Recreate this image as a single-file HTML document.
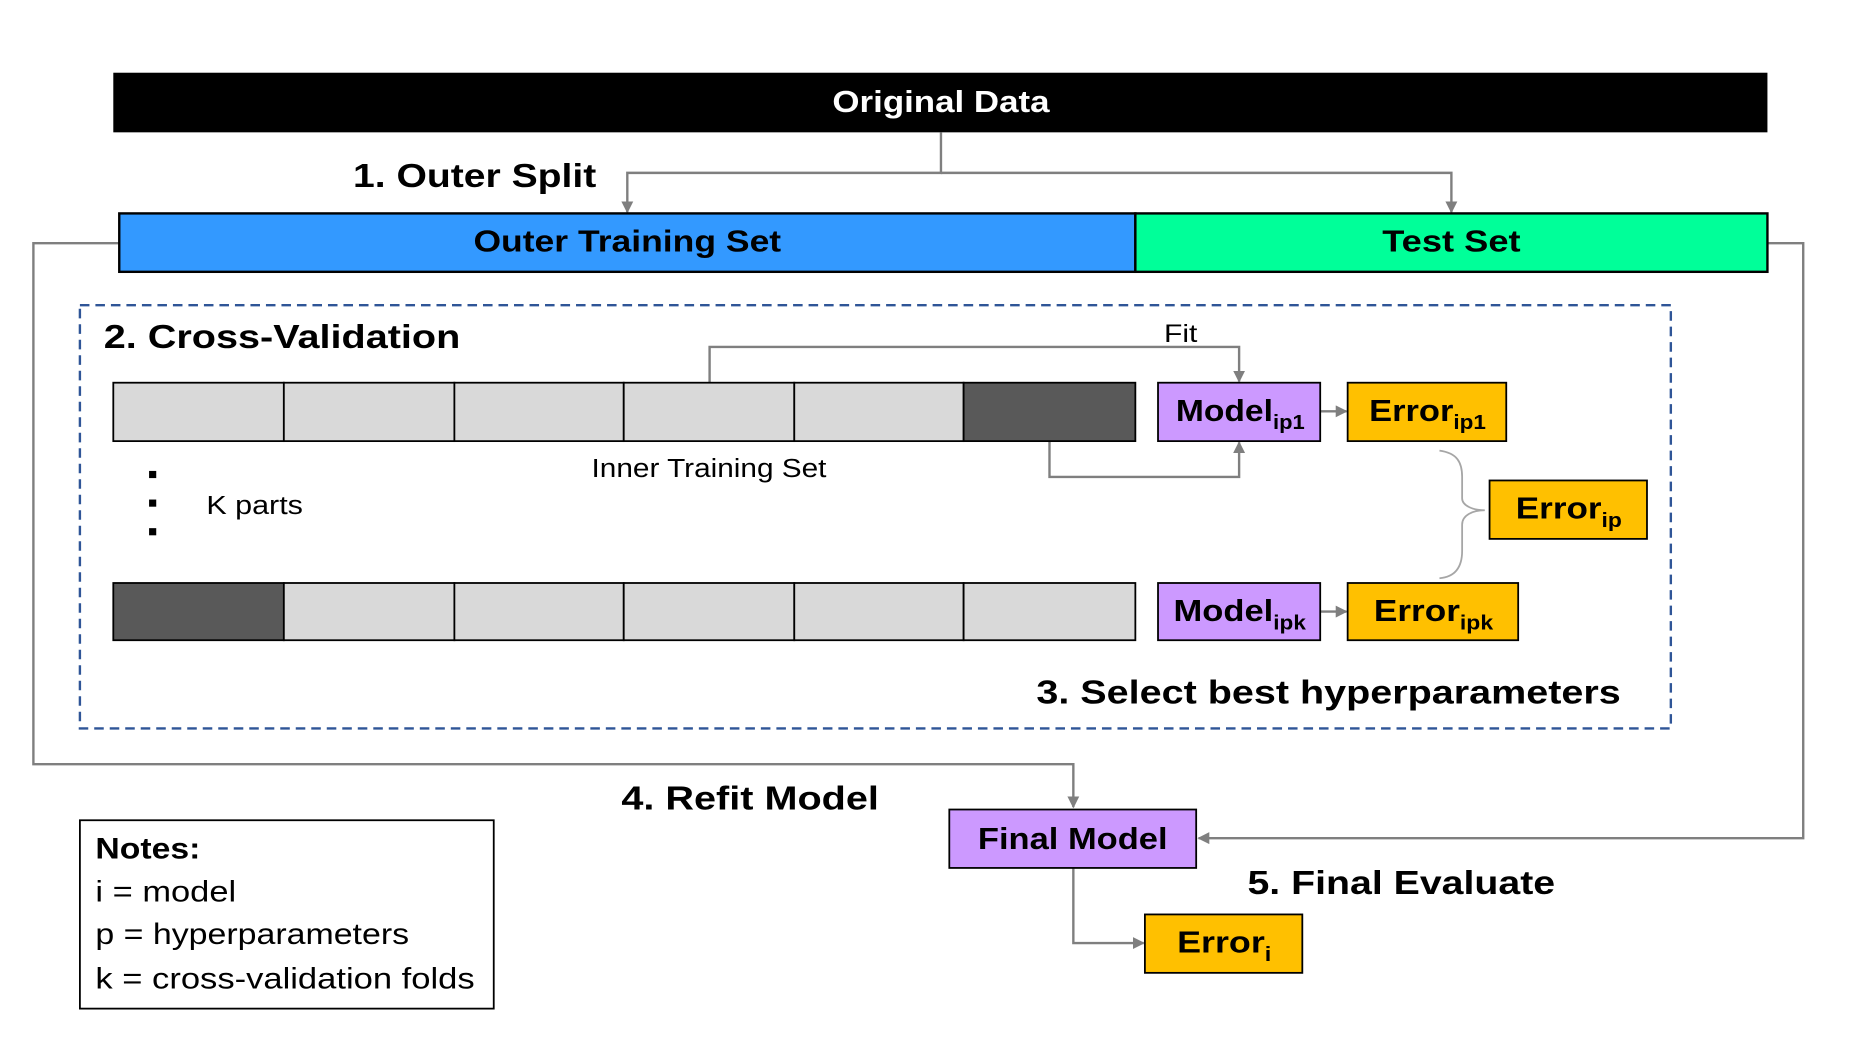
<!DOCTYPE html>
<html><head><meta charset="utf-8"><style>
html,body{margin:0;padding:0;background:#fff;}
svg{display:block;}
text{font-family:"Liberation Sans",sans-serif;}
.b{font-weight:bold;}
</style></head><body>
<svg width="1870" height="1042" viewBox="0 0 1568 874" preserveAspectRatio="none" xmlns="http://www.w3.org/2000/svg">
<defs>
<marker id="a" viewBox="0 0 10 10" refX="9" refY="5" markerWidth="5" markerHeight="5" orient="auto"><path d="M0,0L10,5L0,10z" fill="#7f7f7f"/></marker>
</defs>
<rect x="0" y="0" width="1568" height="874" fill="#fff"/>
<rect x="95" y="61" width="1387" height="50" fill="#000"/>
<text x="698" y="94" fill="#fff" font-size="26" class="b" textLength="182" lengthAdjust="spacingAndGlyphs">Original Data</text>
<g fill="none" stroke="#7f7f7f" stroke-width="2">
<path d="M789,111V145H526V178" marker-end="url(#a)"/>
<path d="M789,145H1217V178" marker-end="url(#a)"/>
<path d="M100,204H28V641H900V677" marker-end="url(#a)"/>
<path d="M1482,204H1512V703H1005" marker-end="url(#a)"/>
<path d="M595,321V291H1039V320" marker-end="url(#a)"/>
<path d="M880,370V400H1039V371" marker-end="url(#a)"/>
<path d="M1107,345H1129" marker-end="url(#a)"/>
<path d="M1107,513H1129" marker-end="url(#a)"/>
<path d="M900,728V791H959" marker-end="url(#a)"/>
<path d="M1207,378C1222,380 1226,388 1226,400V418C1226,424 1235,428 1245,428C1235,428 1226,432 1226,440V462C1226,476 1220,484 1207,485" stroke="#a6a6a6" stroke-width="1.5"/>
</g>
<text x="296" y="157" font-size="28" class="b" textLength="204" lengthAdjust="spacingAndGlyphs">1. Outer Split</text>
<rect x="100" y="179" width="852" height="49" fill="#3399ff" stroke="#000" stroke-width="2"/>
<rect x="952" y="179" width="530" height="49" fill="#00ff99" stroke="#000" stroke-width="2"/>
<text x="397" y="211" font-size="26" class="b" textLength="258" lengthAdjust="spacingAndGlyphs">Outer Training Set</text>
<text x="1159" y="211" font-size="26" class="b" textLength="116" lengthAdjust="spacingAndGlyphs">Test Set</text>
<rect x="67" y="256" width="1334" height="355" fill="none" stroke="#2f5597" stroke-width="2" stroke-dasharray="8,5"/>
<text x="87" y="292" font-size="28" class="b" textLength="299" lengthAdjust="spacingAndGlyphs">2. Cross-Validation</text>
<text x="976" y="287" font-size="21" textLength="28" lengthAdjust="spacingAndGlyphs">Fit</text>
<g stroke="#000" stroke-width="1.5">
<rect x="95" y="321" width="143" height="49" fill="#d9d9d9"/>
<rect x="238" y="321" width="143" height="49" fill="#d9d9d9"/>
<rect x="381" y="321" width="142" height="49" fill="#d9d9d9"/>
<rect x="523" y="321" width="143" height="49" fill="#d9d9d9"/>
<rect x="666" y="321" width="142" height="49" fill="#d9d9d9"/>
<rect x="808" y="321" width="144" height="49" fill="#595959"/>
<rect x="95" y="489" width="143" height="48" fill="#595959"/>
<rect x="238" y="489" width="143" height="48" fill="#d9d9d9"/>
<rect x="381" y="489" width="142" height="48" fill="#d9d9d9"/>
<rect x="523" y="489" width="143" height="48" fill="#d9d9d9"/>
<rect x="666" y="489" width="142" height="48" fill="#d9d9d9"/>
<rect x="808" y="489" width="144" height="48" fill="#d9d9d9"/>
<rect x="971" y="321" width="136" height="49" fill="#cc99ff"/>
<rect x="1130" y="321" width="133" height="49" fill="#ffc000"/>
<rect x="1249" y="403" width="132" height="49" fill="#ffc000"/>
<rect x="971" y="489" width="136" height="48" fill="#cc99ff"/>
<rect x="1130" y="489" width="143" height="48" fill="#ffc000"/>
<rect x="796" y="679" width="207" height="49" fill="#cc99ff"/>
<rect x="960" y="767" width="132" height="49" fill="#ffc000"/>
<rect x="67" y="688" width="347" height="158" fill="#fff"/>
</g>
<text x="496" y="400" font-size="22" textLength="197" lengthAdjust="spacingAndGlyphs">Inner Training Set</text>
<rect x="125" y="395" width="6" height="6"/><rect x="125" y="419" width="6" height="6"/><rect x="125" y="443" width="6" height="6"/>
<text x="173" y="431" font-size="22" textLength="81" lengthAdjust="spacingAndGlyphs">K parts</text>
<text x="986" y="353" font-size="26" class="b" textLength="108" lengthAdjust="spacingAndGlyphs">Model<tspan font-size="17" dy="7">ip1</tspan></text>
<text x="1148" y="353" font-size="26" class="b" textLength="98" lengthAdjust="spacingAndGlyphs">Error<tspan font-size="17" dy="7">ip1</tspan></text>
<text x="1271" y="435" font-size="26" class="b" textLength="89" lengthAdjust="spacingAndGlyphs">Error<tspan font-size="17" dy="7">ip</tspan></text>
<text x="984" y="521" font-size="26" class="b" textLength="111" lengthAdjust="spacingAndGlyphs">Model<tspan font-size="17" dy="7">ipk</tspan></text>
<text x="1152" y="521" font-size="26" class="b" textLength="100" lengthAdjust="spacingAndGlyphs">Error<tspan font-size="17" dy="7">ipk</tspan></text>
<text x="869" y="590" font-size="28" class="b" textLength="490" lengthAdjust="spacingAndGlyphs">3. Select best hyperparameters</text>
<text x="521" y="679" font-size="28" class="b" textLength="216" lengthAdjust="spacingAndGlyphs">4. Refit Model</text>
<text x="820" y="712" font-size="26" class="b" textLength="159" lengthAdjust="spacingAndGlyphs">Final Model</text>
<text x="1046" y="750" font-size="28" class="b" textLength="258" lengthAdjust="spacingAndGlyphs">5. Final Evaluate</text>
<text x="987" y="799" font-size="26" class="b" textLength="79" lengthAdjust="spacingAndGlyphs">Error<tspan font-size="17" dy="7">i</tspan></text>
<text x="80" y="720" font-size="25" class="b" textLength="88" lengthAdjust="spacingAndGlyphs">Notes:</text>
<text x="80" y="756" font-size="25" textLength="118" lengthAdjust="spacingAndGlyphs">i = model</text>
<text x="80" y="792" font-size="25" textLength="263" lengthAdjust="spacingAndGlyphs">p = hyperparameters</text>
<text x="80" y="829" font-size="25" textLength="318" lengthAdjust="spacingAndGlyphs">k = cross-validation folds</text>
</svg>
</body></html>
